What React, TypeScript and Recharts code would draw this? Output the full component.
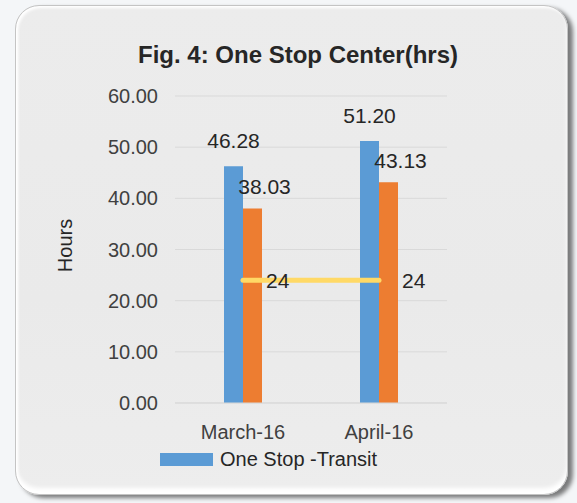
import {
  ComposedChart,
  Bar,
  Line,
  XAxis,
  YAxis,
  CartesianGrid,
  Legend,
  LabelList,
  Label,
} from "recharts";

const categories = ["March-16", "April-16"];
const transitHours = [46.28, 51.2];
const otherHours = [38.03, 43.13];
const targetHours = [24, 24];
const yTicks = [0, 10, 20, 30, 40, 50, 60];

const data = categories.map((month, i) => ({
  month,
  transit: transitHours[i],
  other: otherHours[i],
  target: targetHours[i],
}));

const FONT = '"Liberation Sans", Arial, sans-serif';

export default function App() {
  return (
    <div
      style={{
        position: "absolute",
        left: 0,
        top: 0,
        width: 577,
        height: 503,
        background: "#f4f6f8",
        fontFamily: FONT,
        overflow: "hidden",
      }}
    >
      {/* card */}
      <div
        style={{
          position: "absolute",
          left: 15,
          top: 5,
          width: 551,
          height: 488,
          borderRadius: 24,
          background: "linear-gradient(180deg, #ececec 0%, #eaeaea 60%, #ededed 100%)",
          border: "1px solid #c4c4c4",
          boxShadow:
            "inset 2px 2px 3px #ffffff, inset 0 -6px 4px #ffffff, 5px 3px 4px rgba(0,0,0,0.5)",
        }}
      />
      <div
        style={{
          position: "absolute",
          left: 0,
          top: 42,
          width: 596,
          textAlign: "center",
          fontSize: 24,
          fontWeight: "bold",
          color: "#262626",
          lineHeight: "26px",
        }}
      >
        Fig. 4: One Stop Center(hrs)
      </div>
      <div style={{ position: "absolute", left: 0, top: 0 }}>
        <ComposedChart
          width={577}
          height={503}
          data={data}
          margin={{ top: 96, right: 130, bottom: 60, left: 0 }}
          barGap={0}
          barSize={19}
        >
          <CartesianGrid vertical={false} stroke="#d9d9d9" />
          <XAxis
            dataKey="month"
            height={40}
            tickLine={false}
            axisLine={{ stroke: "#d9d9d9" }}
            tickSize={0}
            tickMargin={22}
            tick={{ fontSize: 20, fill: "#404040", fontFamily: FONT }}
          />
          <YAxis
            width={175}
            domain={[0, 60]}
            ticks={yTicks}
            tickFormatter={(v: number) => v.toFixed(2)}
            tickLine={false}
            axisLine={false}
            tickSize={0}
            tickMargin={17}
            tick={{ fontSize: 20, fill: "#404040", fontFamily: FONT }}
          >
            <Label
              content={(props: any) => {
                const vb = props.viewBox || { x: 0, y: 96, height: 307 };
                const cx = vb.x + 65;
                const cy = vb.y + vb.height / 2 - 4;
                return (
                  <text
                    x={cx}
                    y={cy}
                    transform={`rotate(-90 ${cx} ${cy})`}
                    textAnchor="middle"
                    dominantBaseline="central"
                    fontSize={20}
                    fill="#262626"
                    fontFamily={FONT}
                  >
                    Hours
                  </text>
                );
              }}
            />
          </YAxis>
          <Bar
            dataKey="transit"
            name="One Stop -Transit"
            fill="#5b9bd5"
            isAnimationActive={false}
          >
            <LabelList
              dataKey="transit"
              position="top"
              offset={18}
              formatter={(v: any) => Number(v).toFixed(2)}
              style={{ fontSize: 21, fill: "#262626", fontFamily: FONT }}
            />
          </Bar>
          <Bar
            dataKey="other"
            name="One Stop -Other"
            fill="#ed7d31"
            isAnimationActive={false}
          >
            <LabelList
              dataKey="other"
              position="top"
              offset={14}
              dx={12}
              formatter={(v: any) => Number(v).toFixed(2)}
              style={{ fontSize: 21, fill: "#262626", fontFamily: FONT }}
            />
          </Bar>
          <Line
            dataKey="target"
            name="Target"
            stroke="#ffd966"
            strokeWidth={5}
            strokeLinecap="round"
            dot={false}
            activeDot={false}
            isAnimationActive={false}
          >
            <LabelList
              dataKey="target"
              position="right"
              offset={23}
              style={{ fontSize: 21, fill: "#262626", fontFamily: FONT }}
            />
          </Line>
          <Legend
            verticalAlign="middle"
            layout="horizontal"
            wrapperStyle={{ left: 160, top: 449, width: 320, height: 20 }}
            content={(props: any) => {
              const item = (props.payload || []).find(
                (p: any) => p.dataKey === "transit"
              );
              if (!item) return null;
              return (
                <div style={{ display: "flex", alignItems: "center", height: 20 }}>
                  <span
                    style={{
                      display: "inline-block",
                      width: 53,
                      height: 13,
                      background: item.color,
                    }}
                  />
                  <span
                    style={{
                      marginLeft: 7,
                      fontSize: 20,
                      color: "#262626",
                      fontFamily: FONT,
                      lineHeight: "20px",
                    }}
                  >
                    {item.value}
                  </span>
                </div>
              );
            }}
          />
        </ComposedChart>
      </div>
    </div>
  );
}
